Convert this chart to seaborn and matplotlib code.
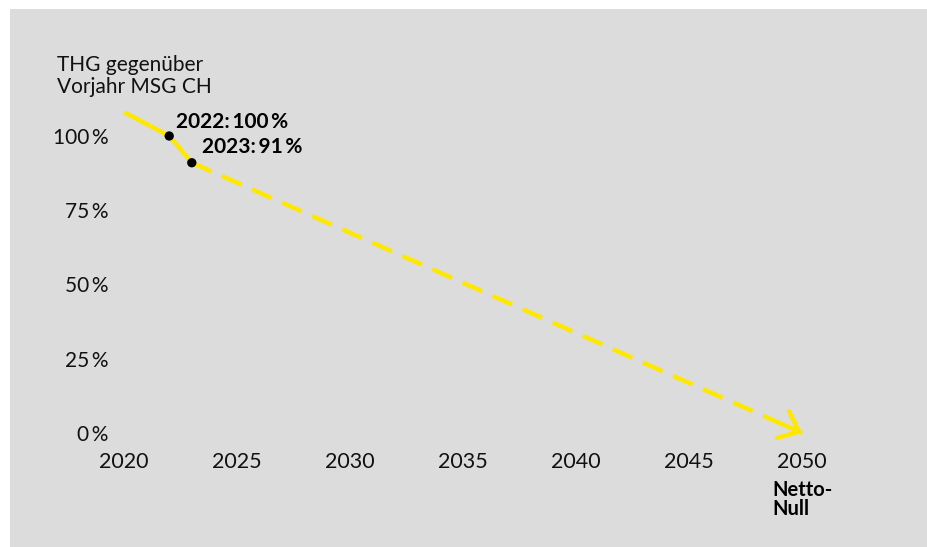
import matplotlib
matplotlib.use("Agg")
import matplotlib.pyplot as plt
from matplotlib.patches import Rectangle
import seaborn as sns
import pandas as pd

# Data
years_actual = [2020, 2022, 2023]
values_actual = [108, 100, 91]
years_target = [2023, 2050]
values_target = [91, 0]
point_years = [2022, 2023]
point_values = [100, 91]
point_labels = ["2022:\u2009100\u2009%", "2023:\u200991\u2009%"]
x_ticks = [2020, 2025, 2030, 2035, 2040, 2045, 2050]
y_ticks = [0, 25, 50, 75, 100]
y_ticklabels = ["0\u2009%", "25\u2009%", "50\u2009%", "75\u2009%", "100\u2009%"]
title = "THG gegenüber\nVorjahr MSG CH"
end_label = "Netto-\nNull"

sns.set_style("white")
plt.rcParams['font.family'] = ['Lato', 'DejaVu Sans']

W, H = 928, 547
fig = plt.figure(figsize=(W / 100, H / 100), dpi=100)
fig.patch.set_facecolor("white")
fig.patches.append(Rectangle((10 / W, -0.1), 1.2, 1.1 - 9 / H, transform=fig.transFigure,
                             facecolor="#dcdcdc", edgecolor="none", zorder=-10))

# axes: x 2020 at 124px, 2050 at 802px; y 0 at 433px, 100 at 136px
x0, x1 = 124, 802
y0, y100 = 433, 136
px_per_pct = (y0 - y100) / 100
ymax = 112
ax = fig.add_axes([x0 / W, (H - y0) / H, (x1 - x0) / W, ymax * px_per_pct / H])
ax.set_facecolor("none")
ax.set_xlim(2020, 2050)
ax.set_ylim(0, ymax)

yellow = "#ffe800"
df_a = pd.DataFrame({"year": years_actual, "value": values_actual})
df_t = pd.DataFrame({"year": years_target, "value": values_target})
df_p = pd.DataFrame({"year": point_years, "value": point_values})

sns.lineplot(data=df_a, x="year", y="value", ax=ax, color=yellow, linewidth=3.2,
             solid_capstyle="butt", clip_on=False, zorder=3)
sns.lineplot(data=df_t, x="year", y="value", ax=ax, color=yellow, linewidth=3.2,
             dashes=False, clip_on=False, zorder=3)
ax.lines[-1].set_dashes([4.8, 2.6])
ax.lines[-1].set_dash_capstyle("butt")

# arrow head at the end
ex, ey = years_target[-1], values_target[-1]
sx, sy = years_target[0], values_target[0]
ax.annotate("", xy=(ex, ey), xytext=(ex - (ex - sx) * 0.03, ey + (sy - ey) * 0.03),
            arrowprops=dict(arrowstyle="->,head_length=1.25,head_width=1.05", color=yellow,
                            lw=3.2, shrinkA=0, shrinkB=0),
            annotation_clip=False, zorder=3)

sns.scatterplot(data=df_p, x="year", y="value", ax=ax, color="black", s=45,
                edgecolor="none", zorder=4, clip_on=False)

offsets = [(5, 10), (7, 11)]
for yr, v, lab, off in zip(point_years, point_values, point_labels, offsets):
    ax.annotate(lab, xy=(yr, v), xytext=off, textcoords="offset points",
                fontsize=15, fontweight="bold", color="black", ha="left", va="center")

ax.set_xticks(x_ticks)
ax.set_xticklabels([str(x) for x in x_ticks], fontsize=15.5, color="#111111")
ax.set_yticks(y_ticks)
ax.set_yticklabels(y_ticklabels, fontsize=15, color="#111111")
ax.tick_params(axis="x", length=0, pad=14)
ax.tick_params(axis="y", length=0, pad=11)
for s in ax.spines.values():
    s.set_visible(False)
ax.set_xlabel("")
ax.set_ylabel("")
ax.grid(False)

fig.text(57 / W, 1 - 55 / H, title, fontsize=15, color="#111111", ha="left", va="top",
         linespacing=1.1)
fig.text(772 / W, 1 - 480 / H, end_label, fontsize=14.5, fontweight="bold", color="black",
         ha="left", va="top", linespacing=0.95)

fig.savefig("out.png", dpi=100)
